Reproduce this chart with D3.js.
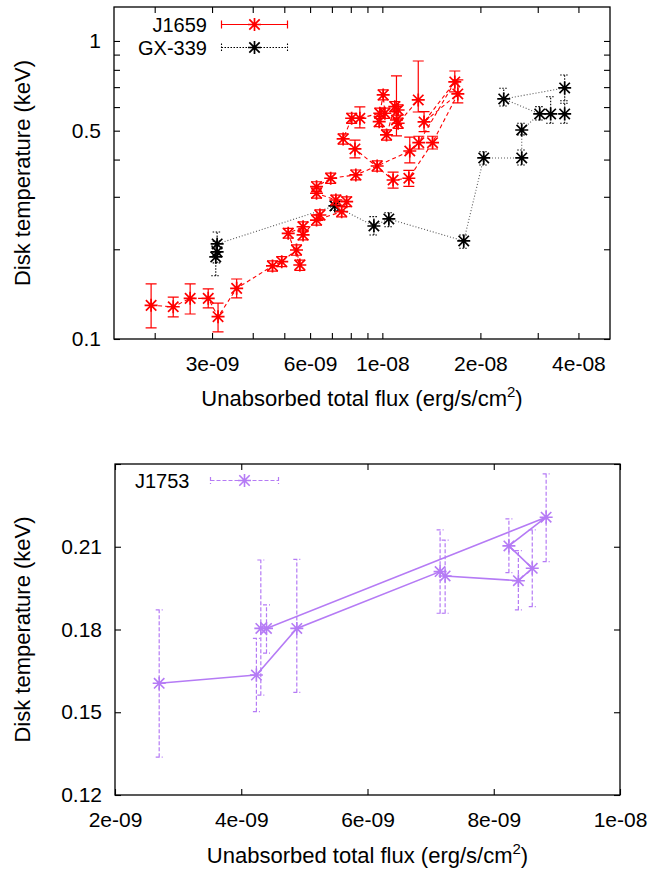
<!DOCTYPE html>
<html>
<head>
<meta charset="utf-8">
<script src="https://cdn.jsdelivr.net/npm/d3@7"></script>
<style>
body { margin: 0; background: #fff; }
text { font-family: "Liberation Sans", Arial, Helvetica, sans-serif; }
</style>
</head>
<body>
<div id="chart"></div>
<script>
// J1659 (top panel, red)
var j1659_flux = [1.95e-9, 2.28e-9, 2.57e-9, 2.92e-9, 3.13e-9, 3.57e-9, 4.60e-9, 4.91e-9, 5.45e-9, 5.58e-9,
	5.14e-9, 5.71e-9, 5.71e-9, 6.43e-9, 6.28e-9, 7.50e-9, 7.77e-9, 7.20e-9, 6.28e-9, 6.28e-9,
	6.94e-9, 8.29e-9, 9.64e-9, 1.214e-8, 1.294e-8, 1.669e-8, 1.343e-8, 1.705e-8, 1.426e-8, 1.206e-8,
	1.079e-8, 8.24e-9, 7.58e-9, 8.05e-9, 8.53e-9, 9.82e-9, 1.006e-8, 1.018e-8, 9.78e-9, 1.03e-8,
	1.092e-8, 1.118e-8, 1.105e-8, 1.118e-8, 1.289e-8];
var j1659_temp = [0.1297, 0.1283, 0.1369, 0.1369, 0.1188, 0.1479, 0.1758, 0.1817, 0.1989, 0.1771,
	0.2263, 0.2380, 0.2234, 0.2606, 0.2507, 0.2674, 0.2888, 0.2927, 0.3083, 0.3244,
	0.3462, 0.3551, 0.3806, 0.4274, 0.4557, 0.7286, 0.5349, 0.6641, 0.4557, 0.3462,
	0.3416, 0.4341, 0.4691, 0.5503, 0.5503, 0.5720, 0.6590, 0.5720, 0.5361, 0.4839,
	0.6020, 0.5867, 0.5431, 0.5295, 0.6339];
var j1659_lo = [0.109, 0.1186, 0.1213, 0.1271, 0.1056, 0.1373, 0.169, 0.175, 0.191, 0.170,
	0.218, 0.229, 0.215, 0.251, 0.241, 0.257, 0.278, 0.282, 0.297, 0.312,
	0.333, 0.342, 0.366, 0.390, 0.434, 0.6745, 0.496, 0.6194, 0.434, 0.325,
	0.321, 0.405, 0.451, 0.529, 0.5106, 0.550, 0.634, 0.550, 0.516, 0.465,
	0.579, 0.564, 0.480, 0.509, 0.5777];
var j1659_hi = [0.153, 0.1383, 0.153, 0.1472, 0.132, 0.159, 0.183, 0.189, 0.207, 0.184,
	0.235, 0.247, 0.232, 0.271, 0.261, 0.278, 0.300, 0.304, 0.321, 0.337,
	0.360, 0.369, 0.396, 0.476, 0.479, 0.7929, 0.579, 0.7399, 0.479, 0.368,
	0.363, 0.465, 0.488, 0.572, 0.6005, 0.595, 0.685, 0.595, 0.558, 0.503,
	0.626, 0.610, 0.7632, 0.551, 0.8567];

// GX-339 (top panel, black)
var gx_flux = [3.08e-9, 3.11e-9, 3.11e-9, 7.15e-9, 9.42e-9, 1.047e-8, 1.778e-8, 2.048e-8, 2.679e-8, 2.679e-8,
	3.042e-8, 2.359e-8, 3.629e-8, 3.629e-8, 3.287e-8];
var gx_temp = [0.1885, 0.196, 0.2084, 0.2795, 0.2394, 0.2528, 0.2133, 0.405, 0.405, 0.5027,
	0.569, 0.639, 0.6956, 0.569, 0.569];
var gx_lo = [0.163, 0.18, 0.196, 0.27, 0.2234, 0.238, 0.2015, 0.3836, 0.3836, 0.4839,
	0.5431, 0.6052, 0.63, 0.5295, 0.5295];
var gx_hi = [0.205, 0.213, 0.2286, 0.29, 0.2573, 0.2653, 0.2234, 0.425, 0.4306, 0.5295,
	0.602, 0.694, 0.769, 0.618, 0.65];

// J1753 (bottom panel, purple)
var j1753_flux = [2.70e-9, 4.24e-9, 4.88e-9, 7.15e-9, 7.23e-9, 8.39e-9, 8.61e-9, 8.24e-9, 8.83e-9, 4.40e-9, 4.31e-9];
var j1753_temp = [0.1605, 0.1635, 0.1804, 0.2010, 0.1994, 0.1977, 0.2022, 0.2103, 0.2207, 0.1804, 0.1804];
var j1753_lo = [0.1337, 0.1502, 0.1572, 0.1859, 0.1859, 0.1871, 0.1883, 0.2006, 0.2046, 0.1714, 0.1562];
var j1753_hi = [0.1871, 0.1768, 0.2054, 0.2161, 0.2124, 0.2086, 0.2161, 0.2201, 0.2364, 0.1889, 0.2052];

// ticks
var top_x_ticks = [2e-9, 3e-9, 4e-9, 5e-9, 6e-9, 7e-9, 8e-9, 9e-9, 1e-8, 2e-8, 3e-8, 4e-8];
var top_x_labels = ["", "3e-09", "", "", "6e-09", "", "", "", "1e-08", "2e-08", "", "4e-08"];
var top_y_ticks = [0.1, 0.2, 0.3, 0.4, 0.5, 0.6, 0.7, 0.8, 0.9, 1.0];
var top_y_labels = ["0.1", "", "", "", "0.5", "", "", "", "", "1"];
var bot_x_ticks = [2e-9, 4e-9, 6e-9, 8e-9, 1e-8];
var bot_x_labels = ["2e-09", "4e-09", "6e-09", "8e-09", "1e-08"];
var bot_y_ticks = [0.12, 0.15, 0.18, 0.21, 0.24];
var bot_y_labels = ["0.12", "0.15", "0.18", "0.21", ""];

var FS = 22, TICK_FS = 21, LEG_FS = 20;
var RED = "#ff0000", PURPLE = "#b57bf5";

var svg = d3.select("#chart").append("svg")
	.attr("width", 670)
	.attr("height", 871);

var box1 = {left: 114, right: 610, top: 7, bottom: 339};
var box2 = {left: 115, right: 620, top: 464, bottom: 795};

var x1 = d3.scaleLog().domain([1.5e-9, 5e-8]).range([box1.left, box1.right]);
var y1 = d3.scaleLog().domain([0.1, 1.3]).range([box1.bottom, box1.top]);
var x2 = d3.scaleLinear().domain([2e-9, 1e-8]).range([box2.left, box2.right]);
var y2 = d3.scaleLinear().domain([0.12, 0.24]).range([box2.bottom, box2.top]);

function starPath(cx, cy, s){
	var d = s * 0.8;
	return "M" + (cx - s) + "," + cy + "h" + (2 * s) +
		"M" + cx + "," + (cy - s) + "v" + (2 * s) +
		"M" + (cx - d) + "," + (cy - d) + "l" + (2 * d) + "," + (2 * d) +
		"M" + (cx - d) + "," + (cy + d) + "l" + (2 * d) + "," + (-2 * d);
}

function barPath(cx, ylo, yhi, w){
	return "M" + (cx - w) + "," + ylo + "h" + (2 * w) +
		"M" + cx + "," + ylo + "V" + yhi +
		"M" + (cx - w) + "," + yhi + "h" + (2 * w);
}

function axes(x, y, box, xt, xl, yt, yl, xtitle_y){
	var g = svg.append("g");
	g.append("g")
		.attr("transform", "translate(0," + box.bottom + ")")
		.call(d3.axisBottom(x).tickValues(xt).tickFormat(function(d, i){ return xl[i]; })
			.tickSizeInner(-6).tickSizeOuter(0).tickPadding(17));
	g.append("g")
		.attr("transform", "translate(0," + box.top + ")")
		.call(d3.axisTop(x).tickValues(xt).tickFormat("")
			.tickSizeInner(-6).tickSizeOuter(0));
	g.append("g")
		.attr("transform", "translate(" + box.left + ",0)")
		.call(d3.axisLeft(y).tickValues(yt).tickFormat(function(d, i){ return yl[i]; })
			.tickSizeInner(-6).tickSizeOuter(0).tickPadding(13));
	g.append("g")
		.attr("transform", "translate(" + box.right + ",0)")
		.call(d3.axisRight(y).tickValues(yt).tickFormat("")
			.tickSizeInner(-6).tickSizeOuter(0));
	g.selectAll(".domain").remove();
	g.selectAll(".tick line").attr("stroke", "#000").attr("stroke-width", 1.1);
	g.selectAll(".tick text")
		.attr("font-family", "Liberation Sans, Arial, sans-serif")
		.attr("font-size", TICK_FS)
		.attr("fill", "#000");

	svg.append("rect")
		.attr("x", box.left).attr("y", box.top)
		.attr("width", box.right - box.left).attr("height", box.bottom - box.top)
		.attr("fill", "none").attr("stroke", "#000").attr("stroke-width", 1.3);

	// axis titles
	var cx = (box.left + box.right) / 2, cy = (box.top + box.bottom) / 2;
	svg.append("text")
		.attr("transform", "translate(30," + cy + ") rotate(-90)")
		.attr("text-anchor", "middle")
		.attr("font-size", FS)
		.text("Disk temperature (keV)");
	var t = svg.append("text")
		.attr("x", cx).attr("y", xtitle_y)
		.attr("text-anchor", "middle")
		.attr("font-size", FS)
		.text("Unabsorbed total flux (erg/s/cm");
	t.append("tspan").attr("dy", -9).attr("font-size", 15).text("2");
	t.append("tspan").attr("dy", 9).text(")");
}

function series(x, y, flux, temp, lo, hi, opt){
	var idx = d3.range(flux.length);
	var g = svg.append("g");
	// error bars
	g.selectAll(".bar")
		.data(idx)
		.enter()
		.append("path")
		.attr("d", function(i){ return barPath(x(flux[i]), y(lo[i]), y(hi[i]), opt.cap); })
		.attr("fill", "none")
		.attr("stroke", opt.barColor)
		.attr("stroke-width", opt.barWidth)
		.attr("stroke-dasharray", opt.barDash);
	// connecting line
	g.append("path")
		.datum(idx)
		.attr("d", d3.line().x(function(i){ return x(flux[i]); }).y(function(i){ return y(temp[i]); }))
		.attr("fill", "none")
		.attr("stroke", opt.lineColor)
		.attr("stroke-width", opt.lineWidth)
		.attr("stroke-dasharray", opt.lineDash);
	// points
	g.selectAll(".pt")
		.data(idx)
		.enter()
		.append("path")
		.attr("d", function(i){ return starPath(x(flux[i]), y(temp[i]), opt.size); })
		.attr("fill", "none")
		.attr("stroke", opt.color)
		.attr("stroke-width", opt.starWidth);
}

function legendEntry(label, ly, x0, x1_, textX, anchor, opt){
	svg.append("text")
		.attr("x", textX).attr("y", ly + 7.5)
		.attr("text-anchor", anchor)
		.attr("font-size", LEG_FS)
		.text(label);
	svg.append("path")
		.attr("d", "M" + x0 + "," + ly + "H" + x1_ +
			"M" + x0 + "," + (ly - opt.legCap) + "v" + (2 * opt.legCap) +
			"M" + x1_ + "," + (ly - opt.legCap) + "v" + (2 * opt.legCap))
		.attr("fill", "none")
		.attr("stroke", opt.barColor)
		.attr("stroke-width", opt.barWidth)
		.attr("stroke-dasharray", opt.barDash);
	svg.append("path")
		.attr("d", starPath((x0 + x1_) / 2, ly, opt.size))
		.attr("fill", "none")
		.attr("stroke", opt.color)
		.attr("stroke-width", opt.starWidth);
}

var red_opt = {color: RED, barColor: RED, barDash: null, barWidth: 1.2, lineColor: RED, lineWidth: 1.1, lineDash: "4,3",
	cap: 5.5, size: 6.5, starWidth: 1.7, legCap: 4};
var gx_opt = {color: "#000", barColor: "#000", barDash: "1.5,1.5", barWidth: 1.1, lineColor: "#555", lineWidth: 1.1, lineDash: "1,2",
	cap: 4.5, size: 6.5, starWidth: 1.7, legCap: 4};
var pur_opt = {color: PURPLE, barColor: PURPLE, barDash: "4,2", barWidth: 1.2, lineColor: PURPLE, lineWidth: 1.6, lineDash: null,
	cap: 3.5, size: 6.5, starWidth: 1.6, legCap: 3.5};

axes(x1, y1, box1, top_x_ticks, top_x_labels, top_y_ticks, top_y_labels, 406);
series(x1, y1, gx_flux, gx_temp, gx_lo, gx_hi, gx_opt);
series(x1, y1, j1659_flux, j1659_temp, j1659_lo, j1659_hi, red_opt);
legendEntry("J1659", 24.5, 221.5, 287.5, 207, "end", red_opt);
legendEntry("GX-339", 47.5, 221.5, 287.5, 207, "end", gx_opt);

axes(x2, y2, box2, bot_x_ticks, bot_x_labels, bot_y_ticks, bot_y_labels, 863);
series(x2, y2, j1753_flux, j1753_temp, j1753_lo, j1753_hi, pur_opt);
legendEntry("J1753", 480.5, 210.5, 278.5, 135, "start", pur_opt);
</script>
</body>
</html>
